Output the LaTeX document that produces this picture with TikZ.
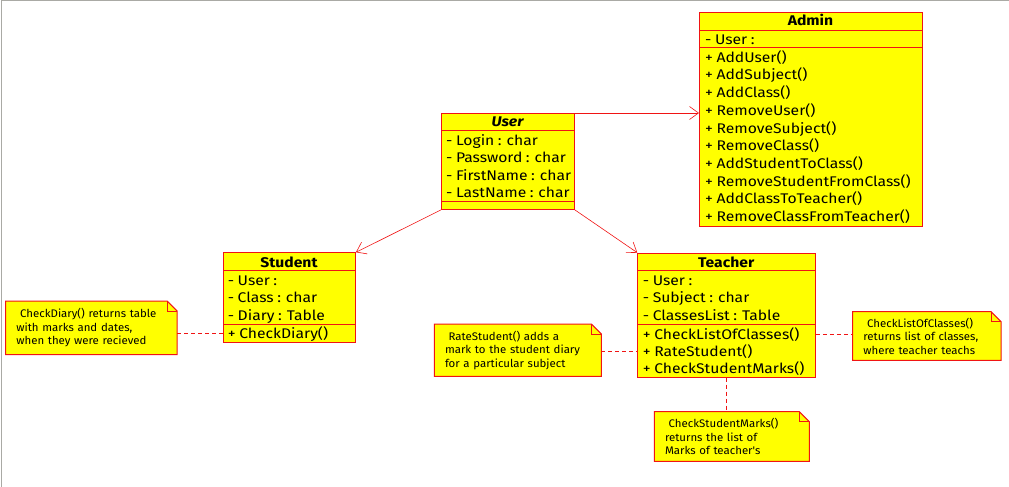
\documentclass[tikz,border=0pt]{standalone}
\usepackage{fontspec}
\setmainfont{Fira Sans}
\newfontfamily\classfont[FakeStretch=1.12,WordSpace=0.85]{Fira Sans}
\newfontfamily\notefont[FakeStretch=1.04]{Fira Sans}
\usetikzlibrary{arrows.meta,backgrounds}
\definecolor{umlred}{RGB}{240,20,20}
\definecolor{umlyellow}{RGB}{255,255,0}
\definecolor{framegray}{RGB}{170,170,165}
\tikzset{
  classbox/.style={draw=umlred, fill=umlyellow, line width=0.9pt, anchor=north west, inner sep=0pt},
  sepline/.style={draw=umlred, line width=0.9pt},
  titletext/.style={font=\classfont\fontsize{14}{16}\selectfont\bfseries, anchor=base, inner sep=0pt},
  rowtext/.style={font=\classfont\fontsize{14}{16}\selectfont, anchor=base west, inner sep=0pt},
  notebox/.style={anchor=north west, inner xsep=10.5pt, inner ysep=0pt, align=left,
    font=\notefont\fontsize{11}{13.6}\selectfont},
  noteshape/.style={draw=umlred, fill=umlyellow, line width=1pt},
  inherit/.style={draw=umlred, line width=0.6pt, -{Straight Barb[length=9pt,width=13pt]}},
  noteline/.style={draw=umlred, dash pattern=on 4pt off 3pt, line width=0.8pt},
}
\newcommand\dogear[1]{%
  \draw[noteshape] (#1.south west) -- (#1.north west) -- ([xshift=-10pt]#1.north east)
    -- ([yshift=-10pt]#1.north east) -- (#1.south east) -- cycle;
  \draw[draw=umlred, line width=0.8pt] ([xshift=-10pt]#1.north east) -- ([xshift=-10pt,yshift=-10pt]#1.north east)
    -- ([yshift=-10pt]#1.north east);}
\begin{document}
\begin{tikzpicture}[x=1pt,y=-1pt]
\useasboundingbox (0,0) rectangle (1009,487);
\draw[framegray, line width=1pt] (1,487) -- (1,0.5) -- (1009,0.5);

% ---------- User ----------
\node[classbox, minimum width=133pt, minimum height=96pt] (user) at (441,113) {};
\draw[sepline] (user.west |- 0,130) -- (user.east |- 0,130);
\draw[sepline] (user.west |- 0,201) -- (user.east |- 0,201);
\node[titletext, font=\classfont\fontsize{14}{16}\selectfont\bfseries\itshape] (user-t) at (507.5,126.5) {User};
\node[rowtext] (user-a1) at (446,145) {- Login : char};
\node[rowtext] (user-a2) at (446,162.6) {- Password : char};
\node[rowtext] (user-a3) at (446,180) {- FirstName : char};
\node[rowtext] (user-a4) at (446,197.6) {- LastName : char};

% ---------- Admin ----------
\node[classbox, minimum width=223pt, minimum height=213.5pt] (admin) at (699,12.3) {};
\draw[sepline] (admin.west |- 0,30) -- (admin.east |- 0,30);
\draw[sepline] (admin.west |- 0,47.7) -- (admin.east |- 0,47.7);
\node[titletext] (admin-t) at (810.5,26) {Admin};
\node[rowtext] (admin-a1) at (705,45) {- User :};
\foreach \t [count=\i from 0] in {AddUser(),AddSubject(),AddClass(),RemoveUser(),RemoveSubject(),RemoveClass(),AddStudentToClass(),RemoveStudentFromClass(),AddClassToTeacher(),RemoveClassFromTeacher()}
  \node[rowtext] (admin-m\i) at (705,62.3+17.7*\i) {+ \t};

% ---------- Student ----------
\node[classbox, minimum width=132pt, minimum height=89.5pt] (student) at (223,252.3) {};
\draw[sepline] (student.west |- 0,270) -- (student.east |- 0,270);
\draw[sepline] (student.west |- 0,324.3) -- (student.east |- 0,324.3);
\node[titletext] (student-t) at (289,267.3) {Student};
\node[rowtext] (stu-a1) at (227.7,285) {- User :};
\node[rowtext] (stu-a2) at (227.7,302.7) {- Class : char};
\node[rowtext] (stu-a3) at (227.7,320.7) {- Diary : Table};
\node[rowtext] (stu-m1) at (227.7,338.3) {+ CheckDiary()};

% ---------- Teacher ----------
\node[classbox, minimum width=177.7pt, minimum height=124pt] (teacher) at (637.3,252.7) {};
\draw[sepline] (teacher.west |- 0,270.7) -- (teacher.east |- 0,270.7);
\draw[sepline] (teacher.west |- 0,324) -- (teacher.east |- 0,324);
\node[titletext] (teacher-t) at (726.2,267.7) {Teacher};
\node[rowtext] (tch-a1) at (642.7,285) {- User :};
\node[rowtext] (tch-a2) at (642.7,302.7) {- Subject : char};
\node[rowtext] (tch-a3) at (642.7,320.7) {- ClassesList : Table};
\node[rowtext] (tch-m1) at (642.7,339) {+ CheckListOfClasses()};
\node[rowtext] (tch-m2) at (642.7,356) {+ RateStudent()};
\node[rowtext] (tch-m3) at (642.7,373.3) {+ CheckStudentMarks()};

% ---------- Notes ----------
\node[notebox, minimum width=171pt, minimum height=53.3pt, text width=150pt] (diarynote) at (5.7,301)
  {\ CheckDiary() returns table\\with marks and dates,\\when they were recieved};
\node[notebox, minimum width=166.7pt, minimum height=52pt, text width=145.7pt] (ratenote) at (434.3,324)
  {\ RateStudent() adds a\\mark to the student diary\\for a particular subject};
\node[notebox, minimum width=148pt, minimum height=48.3pt, text width=127pt] (classnote) at (852.7,311.7)
  {\ CheckListOfClasses()\\returns list of classes,\\where teacher teachs};
\node[notebox, minimum width=154.7pt, minimum height=49.3pt, text width=133.7pt] (marksnote) at (654.3,411.7)
  {\ CheckStudentMarks()\\returns the list of\\Marks of teacher's};

\begin{scope}[on background layer]
  \dogear{diarynote}
  \dogear{ratenote}
  \dogear{classnote}
  \dogear{marksnote}
\end{scope}

% ---------- Connectors ----------
\draw[inherit] (user.north east) -- (user.north east -| admin.west);
\draw[inherit] (user.south west) -- (student.north east);
\draw[inherit] (user.south east) -- (teacher.north west);

\draw[noteline] (diarynote.east |- stu-m1) -- (student.west |- stu-m1);
\draw[noteline] (ratenote.east |- tch-m2) -- (teacher.west |- tch-m2);
\draw[noteline] (teacher.east |- tch-m1) -- (classnote.west |- tch-m1);
\draw[noteline] (teacher.south) -- (marksnote.north -| teacher.south);
\end{tikzpicture}
\end{document}
